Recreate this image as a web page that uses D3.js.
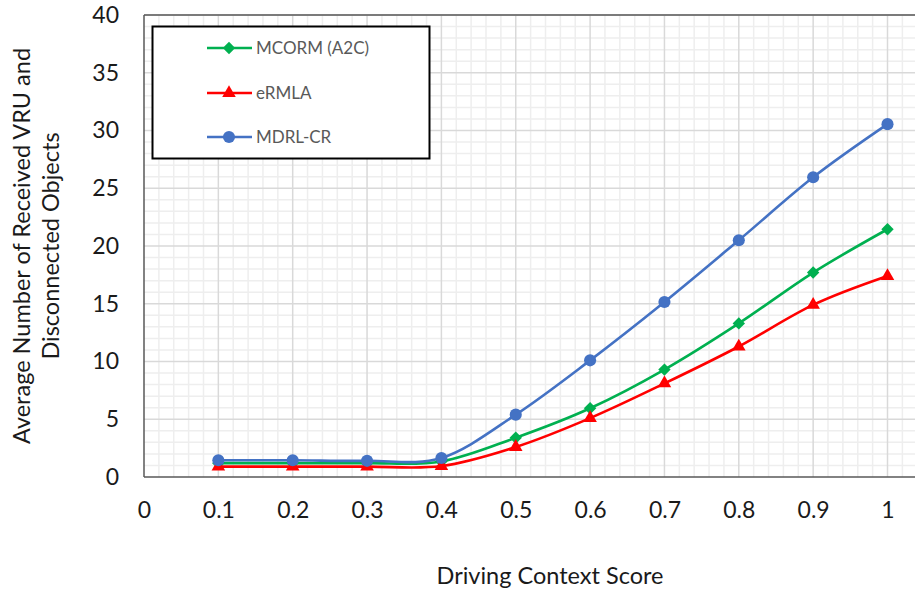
<!DOCTYPE html>
<html>
<head>
<meta charset="utf-8">
<script src="https://cdn.jsdelivr.net/npm/d3@7"></script>
<style>
  html, body { margin: 0; padding: 0; background: #fff; }
  svg { display: block; font-family: Lato, "Open Sans", sans-serif; }
</style>
</head>
<body>
<svg id="chart" width="915" height="594"></svg>
<script>
const xValues = [0.1, 0.2, 0.3, 0.4, 0.5, 0.6, 0.7, 0.8, 0.9, 1.0];
const mcorm = [1.2, 1.2, 1.2, 1.35, 3.4, 5.95, 9.3, 13.3, 17.7, 21.45];
const ermla = [0.9, 0.9, 0.9, 0.95, 2.6, 5.1, 8.1, 11.3, 14.9, 17.4];
const mdrl = [1.45, 1.45, 1.4, 1.65, 5.4, 10.1, 15.15, 20.5, 25.95, 30.55];
const xTicks = [0, 0.1, 0.2, 0.3, 0.4, 0.5, 0.6, 0.7, 0.8, 0.9, 1];
const yTicks = [0, 5, 10, 15, 20, 25, 30, 35, 40];
const seriesNames = ["MCORM (A2C)", "eRMLA", "MDRL-CR"];
const seriesColors = ["#00B050", "#FF0000", "#4472C4"];
const seriesShapes = ["diamond", "triangle", "circle"];
const xTitle = "Driving Context Score";
const yTitle = ["Average Number of Received VRU and", "Disconnected Objects"];

const series = [mcorm, ermla, mdrl].map((vals, i) => ({
  name: seriesNames[i], color: seriesColors[i], shape: seriesShapes[i],
  points: vals.map((v, j) => [xValues[j], v])
}));

const svg = d3.select("#chart");
const pLeft = 144, pTop = 15, pBottom = 477, pRight = 915;
const x0px = 144, x1px = 887.5;
const x = d3.scaleLinear().domain([0, 1]).range([x0px, x1px]);
const xMax = x.invert(pRight + 2);
const y = d3.scaleLinear().domain([0, 40]).range([pBottom, pTop]);

const g = svg.append("g");

// minor grid
const minorX = d3.range(0, xMax, 0.02).filter(v => Math.abs(Math.round(v * 10) / 10 - v) > 1e-6);
const minorY = d3.range(0, 40, 1).filter(v => v % 5 !== 0);
g.selectAll(".mx").data(minorX).join("line")
  .attr("x1", d => x(d)).attr("x2", d => x(d)).attr("y1", pTop).attr("y2", pBottom)
  .attr("stroke", "#eeeeee").attr("stroke-width", 1.5);
g.selectAll(".my").data(minorY).join("line")
  .attr("x1", pLeft).attr("x2", pRight).attr("y1", d => y(d)).attr("y2", d => y(d))
  .attr("stroke", "#eeeeee").attr("stroke-width", 1.5);
// major grid
const majorX = d3.range(0.1, xMax, 0.1);
g.selectAll(".Mx").data(majorX).join("line")
  .attr("x1", d => x(d)).attr("x2", d => x(d)).attr("y1", pTop).attr("y2", pBottom)
  .attr("stroke", "#d9d9d9").attr("stroke-width", 1.5);
g.selectAll(".My").data(yTicks.slice(1)).join("line")
  .attr("x1", pLeft).attr("x2", pRight).attr("y1", d => y(d)).attr("y2", d => y(d))
  .attr("stroke", "#d9d9d9").attr("stroke-width", 1.5);

// plot border
g.append("line").attr("x1", pLeft).attr("x2", pRight).attr("y1", pTop).attr("y2", pTop)
  .attr("stroke", "#595959").attr("stroke-width", 1.5);
g.append("line").attr("x1", pLeft).attr("x2", pLeft).attr("y1", pTop).attr("y2", pBottom)
  .attr("stroke", "#595959").attr("stroke-width", 1.5);
g.append("line").attr("x1", pLeft).attr("x2", pRight).attr("y1", pBottom).attr("y2", pBottom)
  .attr("stroke", "#595959").attr("stroke-width", 1.5);

// axes labels via d3 axes
const xAxis = d3.axisBottom(x).tickValues(xTicks).tickSize(0).tickPadding(25)
  .tickFormat(d => d3.format("~g")(d));
const xa = svg.append("g").attr("transform", `translate(0,${pBottom})`).call(xAxis);
xa.select(".domain").remove();
xa.selectAll("text").attr("font-size", 23).attr("fill", "#1a1a1a").attr("font-family", "Lato, sans-serif");

const yAxis = d3.axisLeft(y).tickValues(yTicks).tickSize(0).tickPadding(25);
const ya = svg.append("g").attr("transform", `translate(${pLeft},0)`).call(yAxis);
ya.select(".domain").remove();
ya.selectAll("text").attr("font-size", 23).attr("fill", "#1a1a1a").attr("font-family", "Lato, sans-serif");

// symbols
function symbolPath(shape) {
  if (shape === "circle") return d3.symbol().type(d3.symbolCircle).size(115)();
  if (shape === "triangle") return d3.symbol().type(d3.symbolTriangle).size(80)();
  // square diamond (equal width and height)
  const r = 6.2;
  return `M0,${-r}L${r},0L0,${r}L${-r},0Z`;
}

// lines
const line = d3.line().x(d => x(d[0])).y(d => y(d[1])).curve(d3.curveCardinal.tension(0));
series.forEach(s => {
  svg.append("path").datum(s.points).attr("d", line)
    .attr("fill", "none").attr("stroke", s.color).attr("stroke-width", 2.6);
});
series.forEach(s => {
  svg.append("g").selectAll("path").data(s.points).join("path")
    .attr("transform", d => `translate(${x(d[0])},${y(d[1])})`)
    .attr("d", symbolPath(s.shape))
    .attr("fill", s.color);
});

// legend
const lg = svg.append("g");
lg.append("rect").attr("x", 152.5).attr("y", 26.5).attr("width", 277).attr("height", 132)
  .attr("fill", "#fff").attr("stroke", "#000").attr("stroke-width", 2);
const rowY = [48, 93, 137];
series.forEach((s, i) => {
  lg.append("line").attr("x1", 207).attr("x2", 252).attr("y1", rowY[i]).attr("y2", rowY[i])
    .attr("stroke", s.color).attr("stroke-width", 2.6);
  lg.append("path").attr("transform", `translate(229,${rowY[i]})`)
    .attr("d", symbolPath(s.shape)).attr("fill", s.color);
  lg.append("text").attr("x", 256).attr("y", rowY[i]).attr("dy", "0.35em")
    .attr("font-size", 17).attr("fill", "#595959").text(s.name);
});

// titles
svg.append("text").attr("x", 550).attr("y", 576).attr("dy", "0.35em")
  .attr("text-anchor", "middle").attr("font-size", 23.5).attr("fill", "#1a1a1a").text(xTitle);
const yt = svg.append("text").attr("transform", "translate(37,246) rotate(-90)")
  .attr("text-anchor", "middle").attr("font-size", 23.5).attr("fill", "#1a1a1a");
yt.append("tspan").attr("x", 0).attr("dy", "-0.3em").text(yTitle[0]);
yt.append("tspan").attr("x", 0).attr("dy", "1.25em").text(yTitle[1]);
</script>
</body>
</html>
